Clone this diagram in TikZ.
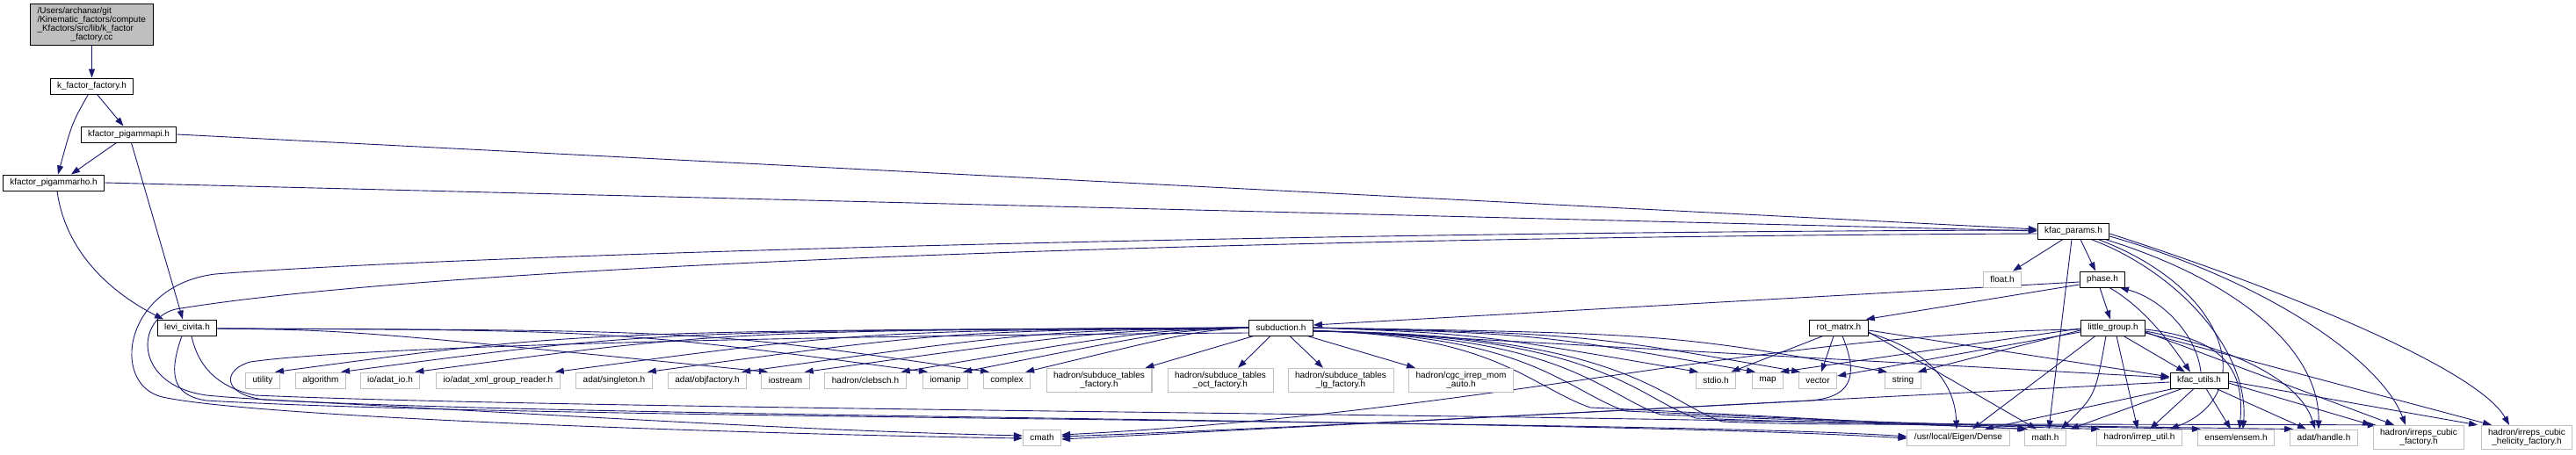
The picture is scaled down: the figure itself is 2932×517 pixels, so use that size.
\documentclass[tikz,border=0pt]{standalone}
\usepackage{fontspec}
\setmainfont{Liberation Sans}
\usetikzlibrary{arrows.meta,backgrounds}
\definecolor{edgeblue}{HTML}{191970}
\definecolor{grey75}{HTML}{BFBFBF}
\tikzset{
  file/.style={draw=black, fill=white, line width=1pt, inner xsep=8pt, inner ysep=4pt,
    minimum height=18pt, align=center, font=\fontsize{10}{10}\selectfont},
  sysfile/.style={file, draw=grey75},
  rootfile/.style={file, fill=grey75},
  dep/.style={edgeblue, line width=0.9pt, -{Triangle[length=10pt,width=7pt]}},
}
\begin{document}
\begin{tikzpicture}[x=1pt,y=-1pt]
\useasboundingbox (0,0) rectangle (2932,517);
% project files
\node[rootfile, text width=124pt, align=left] (root) at (104.5,28)
  {/Users/archanar/git\\/Kinematic\_factors/compute\\\_Kfactors/src/lib/k\_factor\\\makebox[124pt][c]{\_factory.cc}};
\node[file] (kff)   at (104.5,98) {k\_factor\_factory.h};
\node[file] (pgpi)  at (146.5,153) {kfactor\_pigammapi.h};
\node[file] (pgrho) at (61,208) {kfactor\_pigammarho.h};
\node[file] (kp)    at (2360,263) {kfac\_params.h};
\node[file] (phase) at (2393,318) {phase.h};
\node[file] (levi)  at (213,373) {levi\_civita.h};
\node[file] (sub)   at (1458,373) {subduction.h};
\node[file] (rot)   at (2093,373) {rot\_matrx.h};
\node[file] (lg)    at (2405,373) {little\_group.h};
\node[file] (kfu)   at (2503,433) {kfac\_utils.h};
% system headers
\node[sysfile] (flt)       at (2279,318) {float.h};
\node[sysfile] (utility)   at (299,433) {utility};
\node[sysfile] (algorithm) at (365,433) {algorithm};
\node[sysfile] (adatio)    at (444,433) {io/adat\_io.h};
\node[sysfile] (xmlgr)     at (567,433) {io/adat\_xml\_group\_reader.h};
\node[sysfile] (singleton) at (699,433) {adat/singleton.h};
\node[sysfile] (objfac)    at (805,433) {adat/objfactory.h};
\node[sysfile] (iostream)  at (894,433) {iostream};
\node[sysfile] (clebsch)   at (985,433) {hadron/clebsch.h};
\node[sysfile] (iomanip)   at (1076,433) {iomanip};
\node[sysfile] (complex)   at (1146,433) {complex};
\node[sysfile] (stf)       at (1251,433) {hadron/subduce\_tables\\\_factory.h};
\node[sysfile] (stoct)     at (1389,433) {hadron/subduce\_tables\\\_oct\_factory.h};
\node[sysfile] (stlg)      at (1526,433) {hadron/subduce\_tables\\\_lg\_factory.h};
\node[sysfile] (cgc)       at (1663,433) {hadron/cgc\_irrep\_mom\\\_auto.h};
\node[sysfile] (stdio)     at (1953,433) {stdio.h};
\node[sysfile] (map)       at (2012,433) {map};
\node[sysfile] (vector)    at (2069,433) {vector};
\node[sysfile] (string)    at (2166,433) {string};
\node[sysfile] (cmath)     at (1186,498) {cmath};
\node[sysfile] (eigen)     at (2229,498) {/usr/local/Eigen/Dense};
\node[sysfile] (mathh)     at (2328,498) {math.h};
\node[sysfile] (irreputil) at (2435,498) {hadron/irrep\_util.h};
\node[sysfile] (ensem)     at (2545,498) {ensem/ensem.h};
\node[sysfile] (handle)    at (2645,498) {adat/handle.h};
\node[sysfile] (cubic)     at (2753,498) {hadron/irreps\_cubic\\\_factory.h};
\node[sysfile] (helicity)  at (2876,498) {hadron/irreps\_cubic\\\_helicity\_factory.h};

\begin{scope}[on background layer]
\fill[white] (0,0) rectangle (2932,517);
% top of the graph
\draw[dep] (root) -- (kff);
\draw[dep] ([xshift=6pt]kff.south) -- ([xshift=-6pt]pgpi.north);
\draw[dep] ([xshift=-4pt]kff.south) .. controls (82,140) .. ([xshift=5pt]pgrho.north);
\draw[dep] ([xshift=-14pt]pgpi.south) -- ([xshift=20pt]pgrho.north);
\draw[dep] (pgpi.east) -- ([yshift=2pt]kp.west);
\draw[dep] (pgrho.east) -- (kp.west);
\draw[dep] ([xshift=3pt]pgpi.south) -- ([xshift=-5pt]levi.north);
\draw[dep] ([xshift=4pt]pgrho.south) .. controls (75,290) and (130,335) .. ([xshift=-27pt]levi.north);
% levi_civita.h
\foreach \t/\c in {iostream/400, iomanip/700, complex/800}
  \draw[dep] ([yshift=-1pt]levi.east) .. controls (\c,376) .. ([xshift=-20pt]\t.north);
\draw[dep] ([xshift=-6pt]levi.south) .. controls (192,425) and (195,450) .. (235,456)
  .. controls (600,478) and (1900,478) .. ([yshift=1pt]eigen.west);
\draw[dep] ([xshift=5pt]levi.south) .. controls (225,415) and (245,440) .. (290,450)
  .. controls (700,468) and (2000,472) .. ([xshift=2pt]mathh.north west);
% kfac_params.h
\draw[dep] ([yshift=1pt]kp.west) .. controls (1400,264) and (500,292) .. (245,312)
  .. controls (140,325) and (125,438) .. (185,452) .. controls (300,477) and (900,495) .. ([yshift=-1pt]cmath.west);
\draw[dep] ([yshift=-3pt]kp.west) .. controls (1400,270) and (500,302) .. (200,352)
  .. controls (155,362) and (150,438) .. (235,450) .. controls (500,476) and (1800,476) .. ([yshift=-1pt]eigen.west);
\draw[dep] ([xshift=-12pt]kp.south) -- ([xshift=12pt]flt.north);
\draw[dep] ([xshift=8pt]kp.south) -- ([xshift=-8pt]phase.north);
\draw[dep] ([xshift=-2pt]kp.south) -- ([xshift=4pt]mathh.north);
\draw[dep] ([xshift=20pt]kp.south) .. controls (2480,310) and (2560,400) .. ([xshift=8pt]ensem.north);
\draw[dep] ([xshift=28pt]kp.south) .. controls (2540,330) and (2570,450) .. ([xshift=-14pt]irreputil.north east);
\draw[dep] ([xshift=36pt]kp.south) .. controls (2550,320) and (2640,400) .. ([xshift=-6pt]handle.north);
\draw[dep] ([yshift=-6pt]kp.east) .. controls (2580,320) and (2710,410) .. ([xshift=-15pt]cubic.north);
\draw[dep] ([yshift=-3pt]kp.east) .. controls (2600,330) and (2820,420) .. ([xshift=-20pt]helicity.north);
% phase.h and kfac_utils.h
\draw[dep] ([yshift=-3pt]phase.west) -- ([yshift=3pt]sub.east);
\draw[dep] ([yshift=-6pt]phase.west) -- ([xshift=-3pt]rot.north east);
\draw[dep] ([xshift=-3pt]phase.south) -- ([xshift=-3pt]lg.north);
\draw[dep] ([xshift=8pt]phase.south) .. controls (2440,350) and (2470,390) .. ([xshift=-10pt]kfu.north);
\draw[dep] ([xshift=2pt]kfu.north) .. controls (2500,380) and (2460,340) .. ([xshift=20pt]phase.south);
% subduction.h
\foreach \t/\c in {utility/660, algorithm/740, adatio/820, xmlgr/980, singleton/1080,
                   objfac/1180, iostream/1250, clebsch/1300, iomanip/1330, complex/1360}
  \draw[dep] (sub.west) .. controls (\c,377) .. ([xshift=-6pt]\t.north east);
\draw[dep] ([xshift=-31pt]sub.south) -- ([xshift=-8pt]stf.north east);
\draw[dep] ([xshift=-12pt]sub.south) -- ([xshift=20pt]stoct.north);
\draw[dep] ([xshift=10pt]sub.south) -- ([xshift=-20pt]stlg.north);
\draw[dep] ([xshift=30pt]sub.south) -- ([xshift=-52pt]cgc.north);
\foreach \t/\s/\c in {stdio/-20/1680, map/-14/1750, vector/-20/1800, string/-18/1900}
  \draw[dep] (sub.east) .. controls (\c,380) .. ([xshift=\s pt]\t.north);
\draw[dep] ([yshift=-3pt]sub.east) -- ([yshift=3pt]kfu.west);
\foreach \d/\h/\t in {1760/464/mathh, 1800/468/irreputil, 1840/472/ensem, 1880/476/handle, 1910/480/cubic}
  \draw[dep] ([yshift=-4pt]sub.east) .. controls (\d-60,380) and (\d-20,\h-25) .. (\d+50,\h)
    .. controls (\d+170,\h+5) and (2150,482) .. ([xshift=4pt]\t.north west);
\draw[dep] ([yshift=-6pt]sub.west) .. controls (900,382) and (400,395) .. (285,412)
  .. controls (255,420) and (250,448) .. (300,455) .. controls (600,470) and (900,490) .. ([yshift=2pt]cmath.west);
% little_group.h
\draw[dep] ([xshift=12pt]lg.south) -- ([xshift=-16pt]kfu.north);
\draw[dep] ([yshift=-3pt]lg.west) -- ([xshift=-4pt]string.north east);
\draw[dep] ([yshift=-1pt]lg.west) -- ([xshift=-4pt]map.north east);
\draw[dep] ([yshift=-5pt]lg.west) -- ([yshift=5pt]vector.east);
\draw[dep] ([yshift=-2pt]lg.west) .. controls (2000,380) and (1700,470) .. ([yshift=3pt]cmath.east);
\draw[dep] ([xshift=-20pt]lg.south) -- ([xshift=16pt]eigen.north);
\draw[dep] ([xshift=-8pt]lg.south) .. controls (2385,450) .. ([xshift=18pt]mathh.north);
\draw[dep] ([xshift=4pt]lg.south) -- ([xshift=-2pt]irreputil.north);
\draw[dep] ([yshift=-2pt]lg.east) .. controls (2530,385) and (2555,420) .. ([xshift=4pt]ensem.north);
\draw[dep] ([yshift=-4pt]lg.east) .. controls (2560,400) and (2620,440) .. ([xshift=-10pt]handle.north);
\draw[dep] ([yshift=-5pt]lg.east) -- ([xshift=-28pt]cubic.north);
\draw[dep] ([yshift=-6pt]lg.east) -- ([xshift=-40pt]helicity.north);
% kfac_utils.h
\draw[dep] ([xshift=4pt]kfu.south west) -- ([xshift=30pt]eigen.north);
\draw[dep] ([xshift=14pt]kfu.south west) -- ([xshift=28pt]mathh.north);
\draw[dep] ([xshift=-6pt]kfu.south) -- ([xshift=12pt]irreputil.north);
\draw[dep] ([xshift=8pt]kfu.south) -- ([xshift=-6pt]ensem.north);
\draw[dep] ([xshift=-14pt]kfu.south east) -- ([xshift=-20pt]handle.north);
\draw[dep] ([yshift=-3pt]kfu.east) -- ([xshift=-54pt]cubic.north);
\draw[dep] ([yshift=-1pt]kfu.east) -- ([xshift=-56pt]helicity.north);
\draw[dep] ([yshift=-2pt]kfu.west) -- ([yshift=-2pt]cmath.east);
% rot_matrx.h
\draw[dep] ([xshift=-18pt]rot.south) -- ([xshift=-6pt]stdio.north east);
\draw[dep] ([xshift=-6pt]rot.south) -- ([xshift=4pt]vector.north);
\draw[dep] ([xshift=4pt]rot.south) .. controls (2112,420) and (2115,452) .. (2060,456)
  .. controls (1800,470) and (1400,490) .. ([yshift=1pt]cmath.east);
\draw[dep] ([yshift=-3pt]rot.east) -- ([yshift=4pt]kfu.west);
\draw[dep] ([yshift=-6pt]rot.east) .. controls (2200,400) and (2225,440) .. ([xshift=-2pt]eigen.north);
\draw[dep] ([yshift=-5pt]rot.east) -- ([xshift=-10pt]mathh.north);
\end{scope}
\end{tikzpicture}
\end{document}
